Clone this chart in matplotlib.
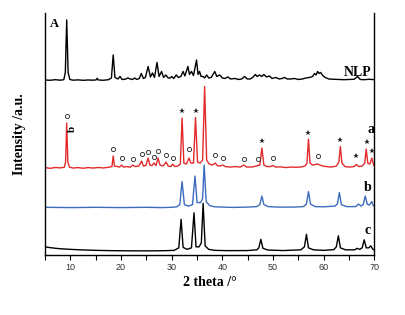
import matplotlib
matplotlib.use("Agg")
import matplotlib.pyplot as plt
from matplotlib.ticker import MultipleLocator

# --- data (2 theta in degrees, intensity in a.u. above each baseline) ---
nlp_x = [5.0, 6, 7, 8, 8.7, 9.0, 9.27, 9.55, 9.9, 10.5, 11.5, 12.5, 13.5, 14.5, 15.1, 15.3, 15.5,
         16.5, 17.5, 18.1, 18.45, 18.8, 19.4, 19.8, 20.2, 20.8, 21.35, 21.8, 22.3, 22.7, 23.1, 23.6,
         24.0, 24.4, 24.8, 25.35, 25.8, 26.2, 26.6, 27.1, 27.5, 28.0, 28.4, 28.85, 29.3, 29.7, 30.0,
         30.4, 30.9, 31.3, 31.8, 32.25, 32.6, 33.2, 33.5, 33.9, 34.3, 34.9, 35.2, 35.5, 35.8, 36.2,
         36.5, 36.9, 37.3, 37.8, 38.5, 38.9, 39.5, 40.0, 40.5, 41.1, 41.6, 42.5, 43.2, 43.8, 44.4,
         44.9, 45.5, 46.0, 46.5, 46.9, 47.3, 47.8, 48.2, 48.7, 49.3, 49.8, 50.6, 51.2, 51.8, 52.3,
         52.8, 53.5, 54.2, 55, 55.8, 56.5, 57.2, 57.8, 58.2, 58.5, 58.8, 59.1, 59.4, 59.8, 60.3, 61,
         62, 63, 64, 65, 66, 66.7, 67.2, 68, 69, 70]
nlp_y = [0.5, 0.2, 0.8, 0.3, 0.8, 8, 60.5, 8, 1, 0.3, 0.6, 0.2, 0.5, 0.3, 0.6, 2.2, 0.5,
         0.2, 0.8, 2.5, 25.5, 3, 1.5, 4, 1, 1.2, 2.5, 1.5, 1, 2.5, 1, 2,
         7, 2, 3, 14, 3.5, 7.5, 3, 18, 4, 9, 3, 5.5, 2.5, 2.5, 4,
         2, 5.5, 3, 4, 9, 4.5, 14, 6, 9, 5, 20.5, 6, 9, 4, 4,
         2.5, 5.5, 2.5, 3, 9, 4, 5.5, 2.5, 2, 3.5, 1.5, 2, 1, 1.5, 4,
         1.5, 1.5, 3, 6, 4, 5.5, 4, 6, 3.5, 4.5, 2, 3, 1.5, 2, 3,
         1.5, 1.5, 2, 1, 1.5, 2.5, 3, 4, 7, 5.5, 9, 7, 8, 5, 3, 1.5,
         1.2, 1, 0.8, 1, 1.2, 4, 1, 0.8, 1.2, 0.8]

a_x = [5, 6, 7, 8, 8.8, 9.05, 9.27, 9.5, 9.8, 10.5, 11.5, 12.5, 13.5, 14.5, 15.5, 16.5, 17.5,
       18.2, 18.45, 18.7, 19.3, 19.7, 20.1, 20.5, 21.2, 21.8, 22.3, 22.8, 23.5, 24.05, 24.4, 24.9,
       25.35, 25.7, 26.1, 26.5, 26.9, 27.3, 27.7, 28.3, 28.9, 29.3, 29.8, 30.2, 30.6, 31.2, 31.7,
       32.05, 32.4, 32.9, 33.4, 33.8, 34.3, 34.7, 35.1, 35.6, 36.1, 36.5, 36.9, 37.4, 38.0, 38.6,
       39.0, 39.5, 40.1, 40.6, 41.5, 42.5, 43.5, 44.25, 44.8, 45.5, 46.3, 46.95, 47.4, 47.8, 48.2,
       48.8, 49.5, 49.97, 50.5, 51.5, 52.5, 53.5, 54.5, 55.5, 56.3, 56.7, 57.0, 57.3, 57.8, 58.3,
       58.8, 59.3, 59.8, 60.5, 61.5, 62.5, 63.0, 63.3, 63.6, 64.2, 65, 66, 66.5, 66.9, 67.6, 68.1,
       68.4, 68.7, 69.1, 69.5, 69.8, 70]
a_y = [0.5, -0.3, 0.6, 0.2, 0.8, 6, 45, 6, 1, 0, 0.5, -0.2, 0.5, 0, 0.6, 0.1, 0.8,
       1.5, 12, 2, 1.5, 1, 3, 1, 1.5, 0.8, 3, 1.5, 2, 7, 2, 2.5,
       10, 3, 2.5, 5, 2.5, 10, 3, 2, 6, 2, 1.5, 4, 1.5, 2, 4,
       50, 5, 4, 10, 5, 5, 50.5, 6, 5, 8, 81.5, 8, 4, 3, 5,
       2.5, 2, 3, 1.5, 1, 1.5, 1, 3, 1, 1, 1.5, 2.5, 3, 20, 3,
       1.5, 1.5, 2.5, 1, 1.2, 0.5, 1, 0.8, 1, 2, 5, 29, 5, 3, 3.5,
       4, 3, 2, 1.5, 1, 2, 6, 21.5, 5, 1.5, 1, 1.5, 3.5, 1.5, 2, 5,
       19, 5, 4, 10, 4, 2]

b_x = [5, 10, 15, 20, 25, 28, 30, 31, 31.6, 32.05, 32.5, 33.3, 34.1, 34.6, 35.0, 35.7, 36.1,
       36.4, 36.8, 37.5, 38.5, 40, 42, 45, 46.8, 47.4, 47.8, 48.2, 49, 51, 54, 56, 56.6, 57.0,
       57.4, 58.3, 60, 62.2, 62.7, 63.1, 63.5, 64.5, 66.3, 66.9, 67.4, 67.8, 68.2, 68.6, 69.0,
       69.5, 69.8, 70]
b_y = [0.3, 0, 0.3, 0, 0.3, 0, 0.3, 0.8, 3, 26, 3, 1.5, 3, 31.5, 5, 5, 9,
       42.5, 6, 2, 0.8, 0.5, 0.2, 0.5, 1, 3, 11.5, 3, 1, 0.5, 0.5, 1, 3.5, 16,
       3.5, 1, 0.8, 1.5, 3.5, 15, 3, 1, 1, 3.5, 1.5, 3, 11.5, 3.5, 2.5,
       6, 2, 1.5]

c_x = [5, 6, 7, 8, 10, 12, 15, 18, 22, 26, 29, 30.5, 31.4, 31.85, 32.25, 33, 33.9, 34.4, 34.8,
       35.4, 35.85, 36.2, 36.6, 37.3, 38.5, 41, 45, 46.8, 47.2, 47.6, 48.0, 49, 52, 55.5, 56.2,
       56.6, 57.0, 58, 60, 62, 62.5, 62.9, 63.3, 64.3, 66.1, 66.6, 67.1, 67.6, 68.0, 68.4, 68.9,
       69.3, 69.7, 70]
c_y = [4, 3.2, 2.6, 2.1, 1.5, 1.0, 0.5, 0.2, 0, 0, 0.2, 0.5, 3, 31.5, 3.5, 1.5, 3, 38, 4,
       4, 8, 47.5, 5, 1.5, 0.5, 0.2, 0.3, 1, 3, 11.5, 2.5, 0.8, 0.3, 1, 4,
       16.5, 3, 1, 0.5, 1.2, 4, 15, 3, 1, 1, 2.5, 1.5, 3, 11, 3, 3,
       5, 1.5, 1]

# vertical offsets of the stacked patterns
offsets = {"c": 4.3, "b": 47.5, "a": 87, "NLP": 174.5}

# phase markers on pattern a
circle_x = [9.4, 18.45, 20.1, 22.3, 24.05, 25.35, 26.5, 27.3, 28.9, 30.2, 33.4, 38.6, 40.1,
            44.25, 46.95, 49.97, 58.8]
circle_y = [139, 105.7, 96.7, 96.3, 100.7, 103, 98.3, 104, 100.3, 97, 105.7, 100, 97,
            96.3, 95.7, 97, 99.3]
star_x = [32.05, 34.7, 47.8, 57.0, 63.3, 66.45, 68.5, 69.55]
star_y = [144.3, 144.3, 114, 122.3, 115, 99, 112.7, 104]

fig = plt.figure(figsize=(4.06, 3.15), dpi=100)
ax = fig.add_axes([0.111, 0.19, 0.811, 0.769])

ax.plot(nlp_x, [v + offsets["NLP"] for v in nlp_y], color="black", lw=1.0)
ax.plot(a_x, [v + offsets["a"] for v in a_y], color="#e32b2b", lw=1.0)
ax.plot(b_x, [v + offsets["b"] for v in b_y], color="#3b6cbf", lw=1.0)
ax.plot(c_x, [v + offsets["c"] for v in c_y], color="black", lw=1.0)

ax.plot(circle_x, circle_y, ls="none", marker="o", ms=3.0, mfc="white", mec="#222222", mew=0.6)
ax.plot(star_x, star_y, ls="none", marker="*", ms=4.0, color="#222222", mew=0)

serif = "Liberation Serif"
ax.text(5.9, 231, "A", fontfamily=serif, fontweight="bold", fontsize=9, ha="left", va="center")
ax.text(69.5, 182, "NLP", fontfamily=serif, fontweight="bold", fontsize=10, ha="right", va="center")
ax.text(69.3, 125.5, "a", fontfamily=serif, fontweight="bold", fontsize=10, ha="center", va="center")
ax.text(68.6, 68, "b", fontfamily=serif, fontweight="bold", fontsize=10, ha="center", va="center")
ax.text(68.6, 24.3, "c", fontfamily=serif, fontweight="bold", fontsize=10, ha="center", va="center")
ax.text(10.35, 126, "b", fontfamily=serif, fontweight="bold", fontsize=8, ha="center", va="center",
        rotation=90)

ax.set_xlim(5, 70)
ax.set_ylim(0, 242)
ax.spines["top"].set_visible(False)
for s in ["left", "bottom", "right"]:
    ax.spines[s].set_linewidth(1.0)
ax.set_yticks([])
ax.xaxis.set_major_locator(MultipleLocator(10))
ax.xaxis.set_minor_locator(MultipleLocator(5))
ax.tick_params(axis="x", which="both", direction="out", length=3.5, width=0.8,
               labelsize=6.5, labelcolor="#333333", pad=2)
for lab in ax.get_xticklabels():
    lab.set_fontfamily("Liberation Sans")

ax.set_xlabel("2 theta /°", fontfamily=serif, fontweight="bold", fontsize=10, labelpad=3)
ax.set_ylabel("Intensity /a.u.", fontfamily=serif, fontweight="bold", fontsize=10, labelpad=14)

fig.savefig("out.png", dpi=100)
